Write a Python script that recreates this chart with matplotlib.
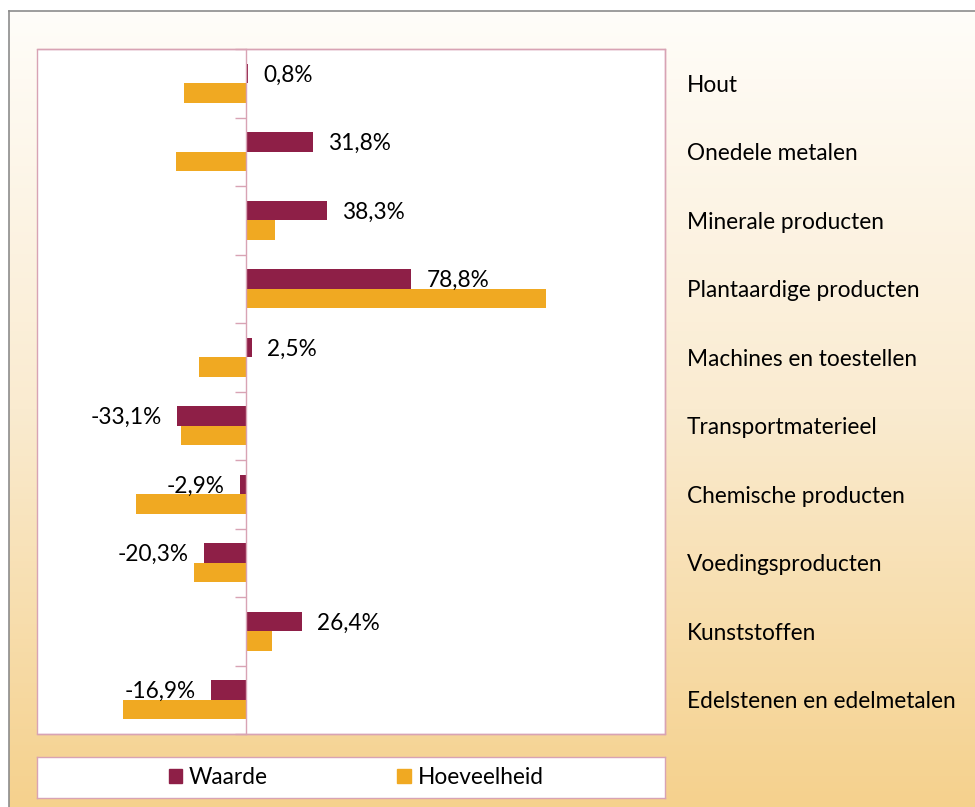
import numpy as np
import matplotlib
matplotlib.use("Agg")
import matplotlib.pyplot as plt
from matplotlib.colors import LinearSegmentedColormap
from matplotlib.patches import Rectangle, Patch

plt.rcParams['font.family'] = ['Lato', 'DejaVu Sans']

categories = ["Hout", "Onedele metalen", "Minerale producten", "Plantaardige producten",
              "Machines en toestellen", "Transportmaterieel", "Chemische producten",
              "Voedingsproducten", "Kunststoffen", "Edelstenen en edelmetalen"]
waarde = [0.8, 31.8, 38.3, 78.8, 2.5, -33.1, -2.9, -20.3, 26.4, -16.9]
hoeveelheid = [-29.6, -33.4, 13.9, 143.0, -22.5, -31.2, -52.7, -24.8, 12.4, -58.8]
series_names = ["Waarde", "Hoeveelheid"]

W, H = 975, 807
c_waarde = "#8E1F47"
c_hoev = "#F0A922"
pink = "#D8A3B4"
fs = 16.3

fig = plt.figure(figsize=(W / 100, H / 100), dpi=100)


def px_box(x0, y0, x1, y1):
    # pixel box (top-left origin) -> figure fraction rect
    return [x0 / W, 1 - y1 / H, (x1 - x0) / W, (y1 - y0) / H]


# background with vertical gradient and grey frame
bg = fig.add_axes(px_box(9, 11, W, H))
grad = LinearSegmentedColormap.from_list("bg", ["#FFFDF9", "#FAEBD0", "#F5D18D"])
bg.imshow(np.linspace(0, 1, 256).reshape(-1, 1), aspect="auto", cmap=grad,
          extent=[0, 1, 0, 1])
bg.set_xlim(0, 1)
bg.set_ylim(0, 1)
bg.set_xticks([])
bg.set_yticks([])
for side in ["right", "bottom"]:
    bg.spines[side].set_visible(False)
for side in ["left", "top"]:
    bg.spines[side].set_color("#8C8C8C")
    bg.spines[side].set_linewidth(1.2)

# plot area
ax = fig.add_axes(px_box(37, 49, 665, 734))
ax.set_facecolor("white")
y = np.arange(len(categories))
bh = 0.285
ax.barh(y - bh / 2, waarde, height=bh, color=c_waarde, label=series_names[0], zorder=2)
ax.barh(y + bh / 2, hoeveelheid, height=bh, color=c_hoev, label=series_names[1], zorder=2)

ax.set_xlim(-100, 200)
ax.set_ylim(len(categories) - 0.5, -0.5)
ax.set_xticks([])

ax.set_yticks(y)
ax.set_yticklabels(categories)
ax.set_yticks(np.arange(len(categories) + 1) - 0.5, minor=True)
ax.tick_params(axis="y", which="major", left=False, right=False,
               labelleft=False, labelright=True, pad=12, labelsize=fs)
ax.tick_params(axis="y", which="minor", left=True, right=False, length=8,
               width=1, color=pink, direction="out")

ax.spines["left"].set_position(("data", 0))
for sp in ax.spines.values():
    sp.set_color(pink)
    sp.set_linewidth(1)
    sp.set_zorder(3)
ax.add_patch(Rectangle((0, 0), 1, 1, transform=ax.transAxes, fill=False,
                       ec=pink, lw=1, clip_on=False, zorder=3))

for yi, v in zip(y, waarde):
    txt = f"{v:.1f}%".replace(".", ",")
    off = 11 if v >= 0 else -11
    ax.annotate(txt, (v, yi - bh / 2), xytext=(off, -1), textcoords="offset points",
                ha="left" if v >= 0 else "right", va="center", fontsize=fs,
                color="black", zorder=4)

# legend box
lax = fig.add_axes(px_box(37, 757, 665, 798))
lax.set_facecolor("white")
lax.set_xticks([])
lax.set_yticks([])
for sp in lax.spines.values():
    sp.set_color(pink)
    sp.set_linewidth(1)
handles = [Patch(color=c_waarde, label=series_names[0]),
           Patch(color=c_hoev, label=series_names[1])]
lax.legend(handles=handles, loc="center", bbox_to_anchor=(0.508, 0.5), ncol=2,
           frameon=False, fontsize=fs, handlelength=0.6, handleheight=0.6,
           handletextpad=0.3, columnspacing=5.7, borderaxespad=0)

fig.savefig("out.png", dpi=100)
